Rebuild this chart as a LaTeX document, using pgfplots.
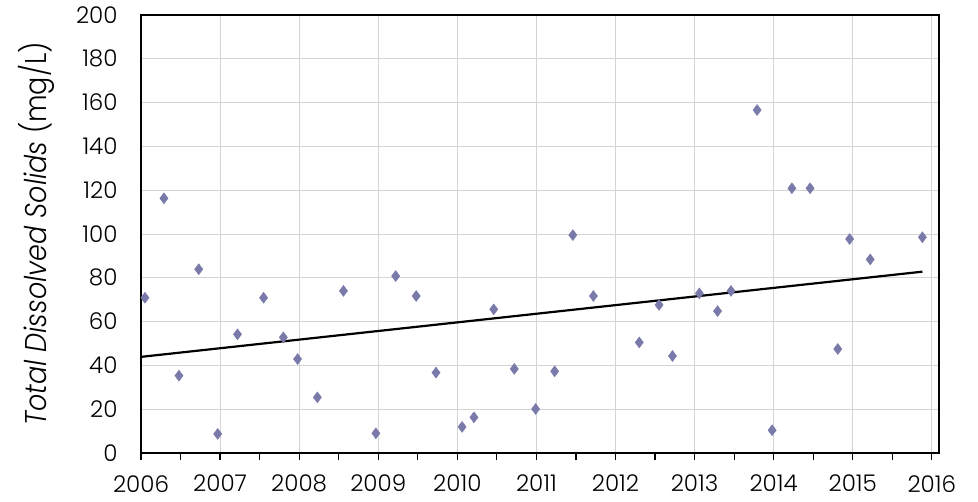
\documentclass[border=0pt]{standalone}
\usepackage{pgfplots}
\pgfplotsset{compat=1.18}
\usepackage{fontspec}
\setmainfont{Poppins}[UprightFont=* Light, ItalicFont=* Light Italic]
\definecolor{mk}{RGB}{122,122,170}
\definecolor{gridc}{RGB}{212,212,212}
\begin{document}
\begin{tikzpicture}
\begin{axis}[
  scale only axis, width=798pt, height=438pt,
  xmin=2006, xmax=2016.09, ymin=0, ymax=200,
  xtick={2006,2007,...,2016},
  minor xtick={2006.5,2007.5,...,2015.5},
  ytick={0,20,...,200},
  /pgf/number format/assume math mode=true,
  /pgf/number format/1000 sep={},
  tick label style={font=\fontsize{23}{26}\selectfont},
  grid=major, major grid style={gridc, line width=0.9pt},
  axis line style={black, line width=1.6pt},
  xtick pos=left, ytick pos=left,
  ytick style={draw=none},
  tick align=outside,
  major tick length=7pt, minor tick length=7pt,
  x tick style={black, line width=1.2pt},
  yticklabel style={xshift=-13pt},
  xticklabel style={anchor=north, inner ysep=0pt, yshift=-15pt},
  ylabel={\scalebox{0.9}[1]{\textit{Total Dissolved Solids} (mg/L)}},
  ylabel style={font=\fontsize{30}{34}\selectfont, at={(axis description cs:0,0.5)}, anchor=base, inner sep=0pt, yshift=94pt},
]
\addplot[only marks, mark=diamond*, mark size=5.5pt, mk, mark options={fill=mk, draw=mk}] coordinates {
(2006.05,70.9) (2006.29,116.3) (2006.48,35.3) (2006.73,83.9) (2006.97,8.7)
(2007.22,54.2) (2007.55,70.9) (2007.80,52.8) (2007.98,42.9) (2008.23,25.4)
(2008.56,74.0) (2008.97,9.0) (2009.22,80.8) (2009.48,71.7) (2009.73,36.7)
(2010.06,11.9) (2010.21,16.3) (2010.46,65.6) (2010.72,38.4) (2010.99,20.1)
(2011.23,37.3) (2011.46,99.5) (2011.72,71.7) (2012.30,50.5) (2012.55,67.6)
(2012.72,44.3) (2013.06,72.9) (2013.29,64.8) (2013.46,74.0) (2013.79,156.6)
(2013.98,10.4) (2014.23,120.9) (2014.46,120.9) (2014.81,47.5) (2014.96,97.7)
(2015.22,88.4) (2015.88,98.5)
};
\addplot[black, line width=2.2pt] coordinates {(2006.0,43.9) (2015.88,82.8)};
\coordinate (SW) at (rel axis cs:0,0);
\coordinate (NE) at (rel axis cs:1,1);
\end{axis}
\pgfresetboundingbox
\path ([shift={(-141pt,-48pt)}]SW) rectangle ([shift={(39pt,15pt)}]NE);
\end{tikzpicture}
\end{document}
